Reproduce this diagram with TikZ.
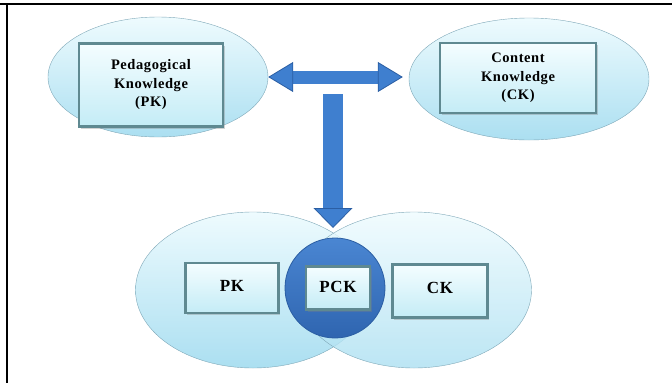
\documentclass[tikz,border=0pt]{standalone}
\usepackage{fontspec}
\setmainfont{Liberation Serif}
\newfontfamily\labelfont[LetterSpace=4]{Liberation Serif}
\usepackage{tikz}
\usetikzlibrary{arrows.meta,positioning,shapes.geometric,shadows}

\definecolor{ellTop}{HTML}{EEFBFE}
\definecolor{ellBot}{HTML}{ABDFF1}
\definecolor{ellEdge}{HTML}{7FA8B8}
\definecolor{boxTop}{HTML}{F4FDFF}
\definecolor{boxBot}{HTML}{C4ECF6}
\definecolor{boxEdge}{HTML}{5F8991}
\definecolor{arrowBlue}{HTML}{3F7FCF}
\definecolor{arrowEdge}{HTML}{2B5EA3}
\definecolor{circTop}{HTML}{4A86D2}
\definecolor{circBot}{HTML}{2F65B0}

\begin{document}
\begin{tikzpicture}[
    x = 1pt, y = -1pt, % pixel grid, y runs down
    > = {Triangle[length=25pt, width=30pt, line width=0.8pt, color=arrowEdge, fill=arrowBlue]},
    knowledge/.style = {ellipse, draw = ellEdge, thin, top color = ellTop, bottom color = ellBot},
    bevel/.style = {rectangle, draw = boxEdge, line width = 2.6pt,
        top color = boxTop, bottom color = boxBot, align = center,
        drop shadow = {shadow xshift = 1.5pt, shadow yshift = -2pt, opacity = 0.35}},
    bigarrow/.style = {draw = arrowBlue, line width = 13pt},
    downarrow/.style = {draw = arrowBlue, line width = 20pt,
        -{Triangle[length=20pt, width=39pt, line width=0.8pt, color=arrowEdge, fill=arrowBlue]}}
    ]

    \tikzset{every node/.append style = {font = \labelfont\bfseries\fontsize{14.5}{18.5}\selectfont}}
    \useasboundingbox (0,0) rectangle (672,383);

    % frame lines
    \draw[line width = 1.3pt] (0,4) -- (672,4);
    \draw[line width = 1.3pt] (7,4) -- (7,383);

    % the two kinds of knowledge
    \node[knowledge, minimum width = 220pt, minimum height = 120pt] (pkE) at (158,77) {};
    \node[knowledge, minimum width = 240pt, minimum height = 122pt] (ckE) at (529,79) {};
    \node[bevel, minimum width = 144pt, minimum height = 83pt] (pkBox) at (151,85) {Pedagogical\\Knowledge\\(PK)};
    \node[bevel, minimum width = 156pt, minimum height = 70pt] (ckBox) at (518,78) {Content\\Knowledge\\(CK)};

    % overlap below
    \node[knowledge, minimum width = 235pt, minimum height = 156pt] (pkL) at (253,290) {};
    \node[knowledge, fill opacity = 0.8, minimum width = 235pt, minimum height = 156pt] (ckL) at (414,290) {};
    \node[circle, draw = arrowEdge, thick, top color = circTop, bottom color = circBot, minimum size = 100pt] (pckC) at (335,288) {};

    \tikzset{every node/.append style = {font = \labelfont\bfseries\fontsize{17}{20}\selectfont}}
    \node[bevel, minimum width = 93pt, minimum height = 50pt] (pkB) at (232,288) {\raisebox{5pt}{PK}};
    \node[bevel, minimum width = 64pt, minimum height = 43pt] (pckB) at (338,288) {\raisebox{2pt}{PCK}};
    \node[bevel, minimum width = 95pt, minimum height = 53pt] (ckB) at (440,291) {\raisebox{6pt}{CK}};

    \coordinate (junc) at (333,94);
    \coordinate (meet) at (333,233);

    \draw[bigarrow, <->, shorten > = 6pt] (pkE.east) -- (pkE.east -| ckE.west);
    \draw[downarrow, shorten > = 5pt] (junc) -- (meet);
\end{tikzpicture}
\end{document}
